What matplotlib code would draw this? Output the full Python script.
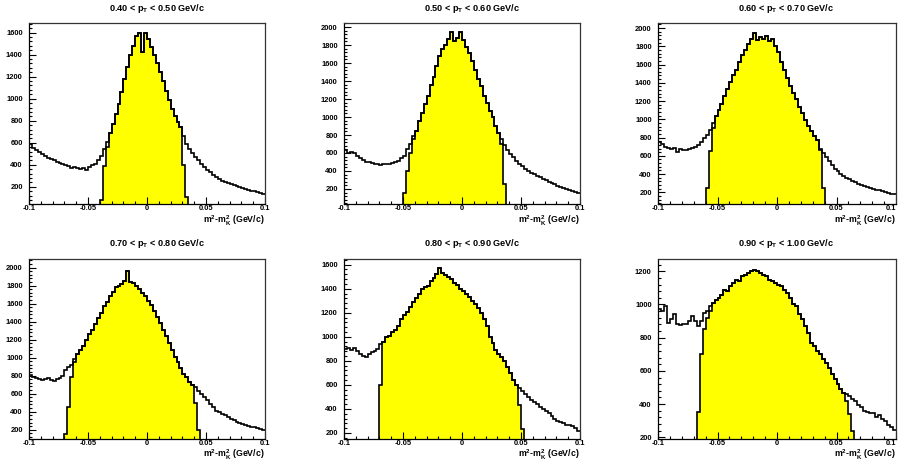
import numpy as np
import matplotlib
matplotlib.use("Agg")
import matplotlib.pyplot as plt
from matplotlib.ticker import FixedLocator, FixedFormatter, MultipleLocator

plt.rcParams['font.family'] = ['Liberation Sans', 'DejaVu Sans']
plt.rcParams['font.weight'] = 'bold'
plt.rcParams['mathtext.fontset'] = 'custom'
plt.rcParams['mathtext.rm'] = 'Liberation Sans:bold'
plt.rcParams['mathtext.it'] = 'Liberation Sans:bold'
plt.rcParams['mathtext.bf'] = 'Liberation Sans:bold'

# ---------------- data ----------------
x_min, x_max, n_bins = -0.1, 0.1, 80
pt_lo = [0.40, 0.50, 0.60, 0.70, 0.80, 0.90]
pt_hi = [0.50, 0.60, 0.70, 0.80, 0.90, 1.00]

h1 = [590, 555, 530, 515, 500, 480, 465, 450, 440, 425,
      415, 405, 395, 385, 370, 375, 368, 365, 370, 350,
      380, 400, 410, 440, 480, 540, 610, 690, 770, 860,
      950, 1060, 1180, 1290, 1400, 1480, 1570, 1600, 1420, 1600,
      1540, 1470, 1400, 1320, 1240, 1160, 1070, 990, 910, 840,
      790, 740, 660, 590, 545, 505, 470, 440, 405, 375,
      350, 330, 305, 290, 270, 255, 245, 235, 228, 218,
      210, 200, 190, 182, 172, 165, 158, 150, 142, 135]
h2 = [630, 600, 610, 600, 565, 540, 525, 505, 495, 490,
      480, 475, 470, 480, 475, 480, 490, 500, 510, 540,
      570, 640, 700, 790, 840, 960, 1050, 1140, 1230, 1360,
      1450, 1570, 1680, 1760, 1800, 1870, 1940, 1850, 1880, 1950,
      1860, 1780, 1710, 1620, 1520, 1420, 1340, 1230, 1160, 1070,
      1000, 900, 820, 750, 690, 630, 590, 550, 510, 475,
      455, 425, 400, 380, 365, 345, 330, 310, 295, 280,
      265, 250, 235, 225, 210, 195, 185, 180, 170, 150]
h3 = [750, 730, 700, 690, 680, 685, 640, 670, 665, 660,
      675, 690, 700, 720, 750, 790, 830, 880, 960, 1040,
      1100, 1170, 1250, 1330, 1410, 1490, 1540, 1630, 1700, 1760,
      1830, 1880, 1940, 1870, 1900, 1880, 1910, 1860, 1880, 1800,
      1740, 1630, 1540, 1450, 1370, 1290, 1220, 1140, 1070, 990,
      930, 870, 820, 770, 680, 630, 590, 540, 500, 460,
      435, 405, 380, 360, 345, 325, 310, 295, 285, 270,
      258, 250, 240, 230, 220, 210, 200, 192, 185, 180]
h4 = [805, 790, 770, 760, 750, 760, 770, 750, 745, 760,
      770, 800, 860, 900, 920, 980, 1040, 1080, 1130, 1200,
      1260, 1310, 1370, 1440, 1500, 1570, 1620, 1680, 1730, 1780,
      1800, 1820, 1850, 1960, 1840, 1830, 1790, 1760, 1720, 1680,
      1630, 1580, 1520, 1450, 1390, 1310, 1240, 1160, 1090, 1010,
      950, 880, 820, 780, 730, 700, 670, 630, 600, 560,
      530, 480, 450, 410, 395, 375, 360, 340, 320, 305,
      290, 280, 265, 250, 240, 230, 225, 215, 210, 195]
h5 = [900, 910, 890, 905, 880, 860, 840, 830, 860, 870,
      880, 900, 940, 960, 1000, 1010, 1040, 1060, 1090, 1150,
      1180, 1210, 1250, 1290, 1320, 1360, 1400, 1410, 1420, 1460,
      1490, 1520, 1570, 1530, 1510, 1500, 1480, 1450, 1430, 1400,
      1380, 1360, 1330, 1300, 1270, 1240, 1200, 1150, 1090, 1000,
      950, 890, 860, 830, 800, 750, 700, 640, 600, 570,
      550, 525, 500, 475, 460, 440, 420, 400, 385, 365,
      340, 320, 300, 290, 280, 270, 265, 255, 240, 220]
h6 = [970, 960, 990, 890, 910, 940, 880, 875, 885, 880,
      900, 930, 900, 870, 900, 950, 960, 990, 1010, 1030,
      1040, 1060, 1090, 1080, 1110, 1130, 1150, 1140, 1170, 1180,
      1190, 1200, 1210, 1200, 1190, 1180, 1170, 1150, 1140, 1130,
      1120, 1110, 1090, 1070, 1040, 1000, 990, 940, 910, 870,
      830, 770, 750, 720, 700, 670, 650, 620, 580, 550,
      520, 490, 470, 460, 450, 430, 420, 395, 380, 360,
      355, 345, 345, 320, 335, 310, 300, 275, 260, 245]
totals = [h1, h2, h3, h4, h5, h6]

# kaon (yellow) histogram: equal to total inside its range, with read edge ramps
kaon_lo = [-0.04, -0.05, -0.06, -0.07, -0.07, -0.0675]
kaon_hi = [0.035, 0.0375, 0.04, 0.045, 0.0525, 0.065]
kaon_left = [[80, 390, 560], [150, 400, 600, 760], [250, 650, 900],
             [150, 450, 780, 950], [600], [350, 700, 850, 920, 960]]
kaon_right = [[400, 110], [700, 260], [660, 250], [500, 200],
              [430, 230], [420, 340, 240]]

y_limits = [(43, 1688), (33, 2045), (72, 2055), (97, 2095), (150, 1647), (190, 1274)]
y_ticks = [list(range(200, 1601, 200)), list(range(200, 2001, 200)),
           list(range(200, 2001, 200)), list(range(200, 2001, 200)),
           list(range(200, 1601, 200)), list(range(200, 1201, 200))]
x_ticks = [-0.1, -0.05, 0.0, 0.05, 0.1]
x_tick_labels = ['-0.1', '-0.05', '0', '0.05', '0.1']

# ---------------- layout (pixels) ----------------
W, H = 899, 466
col_left = [29, 344, 658]
col_width = [236, 236, 238]
row_top = [23, 259]
row_bottom = [204, 439]
title_x = [157, 472, 786]
title_base = [11, 246]

fig = plt.figure(figsize=(W / 100, H / 100), dpi=100)
edges = np.linspace(x_min, x_max, n_bins + 1)

for k in range(6):
    r, c = divmod(k, 3)
    ax = fig.add_axes([col_left[c] / W, 1 - row_bottom[r] / H,
                       col_width[c] / W, (row_bottom[r] - row_top[r]) / H])
    tot = np.array(totals[k], dtype=float)
    i0 = int(round((kaon_lo[k] - x_min) / 0.0025))
    i1 = int(round((kaon_hi[k] - x_min) / 0.0025))
    kaon = np.zeros(n_bins)
    kaon[i0:i1] = tot[i0:i1]
    kl = kaon_left[k]
    kaon[i0:i0 + len(kl)] = kl
    kr = kaon_right[k]
    kaon[i1 - len(kr):i1] = kr

    ax.stairs(kaon, edges, fill=True, color='#ffff00', baseline=0, zorder=1)
    ax.stairs(kaon, edges, color='black', lw=1.2, baseline=0, zorder=2)
    ax.stairs(tot, edges, color='black', lw=1.2, baseline=None, zorder=3)

    ax.set_xlim(x_min, x_max)
    ax.set_ylim(*y_limits[k])
    ax.xaxis.set_major_locator(FixedLocator(x_ticks))
    ax.xaxis.set_major_formatter(FixedFormatter(x_tick_labels))
    ax.xaxis.set_minor_locator(MultipleLocator(0.01))
    ax.yaxis.set_major_locator(FixedLocator(y_ticks[k]))
    ax.yaxis.set_major_formatter(FixedFormatter([str(v) for v in y_ticks[k]]))
    ax.yaxis.set_minor_locator(MultipleLocator(40))
    ax.tick_params(which='both', direction='in', top=False, right=False,
                   labelsize=5.4, width=0.8, colors='black')
    ax.tick_params(axis='x', which='major', length=5, pad=1.0)
    ax.tick_params(axis='x', which='minor', length=2.5)
    ax.tick_params(axis='y', which='major', length=5, pad=4.5)
    ax.tick_params(axis='y', which='minor', length=2.5)
    for lab in ax.get_xticklabels() + ax.get_yticklabels():
        lab.set_fontweight('bold')
    if c == 2:
        ax.get_xticklabels()[-1].set_horizontalalignment('right')
    for s in ax.spines.values():
        s.set_linewidth(0.9)
        s.set_color('black')
    ax.spines['top'].set_color('#333333')
    ax.spines['right'].set_color('#333333')

    fig.text(title_x[c] / W, 1 - title_base[r] / H,
             r'%.2f < p$_{\mathrm{T}}$ < %.2f GeV/c' % (pt_lo[k], pt_hi[k]),
             ha='center', va='baseline', fontsize=6.6, fontweight='bold')
    fig.text((col_left[c] + col_width[c]) / W, 1 - (row_bottom[r] + 19) / H,
             r'm$^{\mathrm{2}}$-m$^{\mathrm{2}}_{\mathrm{K}}$ (GeV/c)',
             ha='right', va='baseline', fontsize=6.3, fontweight='bold')

fig.savefig('out.png', dpi=100)
